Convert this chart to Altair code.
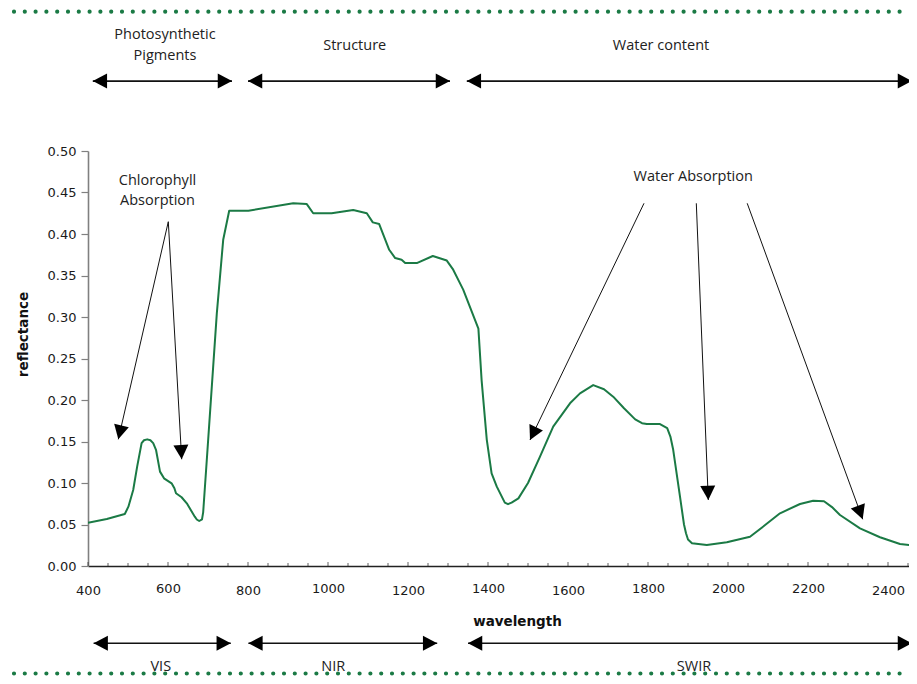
import math
import altair as alt
import pandas as pd

# ---------------- data ----------------
wavelength = [400, 447, 492, 501, 513, 523, 534, 540, 548, 556, 563, 570, 580, 590, 609, 616,
              620, 634, 647, 667, 672, 678, 685, 688, 697, 722, 738, 753, 801, 913, 947, 963,
              1009, 1063, 1097, 1112, 1128, 1153, 1168, 1184, 1193, 1222, 1262, 1297, 1313,
              1338, 1376, 1384, 1397, 1409, 1422, 1442, 1450, 1459, 1476, 1500, 1530, 1563,
              1605, 1630, 1663, 1690, 1713, 1740, 1768, 1785, 1797, 1830, 1848, 1856, 1863,
              1880, 1890, 1895, 1900, 1910, 1947, 1997, 2055, 2092, 2130, 2180, 2213, 2240,
              2260, 2280, 2330, 2380, 2430, 2472]
reflectance = [0.052, 0.0566, 0.0627, 0.0715, 0.0916, 0.120, 0.148, 0.1515, 0.1526, 0.1515,
               0.148, 0.140, 0.1137, 0.1056, 0.0996, 0.0936, 0.0876, 0.0828, 0.0755, 0.0594,
               0.056, 0.0542, 0.0562, 0.065, 0.128, 0.304, 0.393, 0.428, 0.428, 0.437, 0.436,
               0.425, 0.425, 0.429, 0.425, 0.414, 0.412, 0.381, 0.371, 0.369, 0.365, 0.365,
               0.3735, 0.368, 0.357, 0.333, 0.286, 0.224, 0.152, 0.1117, 0.0956, 0.0763,
               0.0745, 0.0763, 0.0815, 0.100, 0.1317, 0.168, 0.196, 0.208, 0.218, 0.213,
               0.204, 0.190, 0.1767, 0.172, 0.171, 0.171, 0.166, 0.156, 0.140, 0.0835, 0.050,
               0.0394, 0.032, 0.0275, 0.0253, 0.0285, 0.0353, 0.049, 0.0635, 0.0747, 0.0787,
               0.078, 0.071, 0.0614, 0.0454, 0.0346, 0.0265, 0.0241]

x_tick_values = list(range(400, 2451, 50))
x_label_values = list(range(400, 2401, 200))
x_labels_raised = [600, 1000, 1400, 1800, 2000, 2200]
y_tick_values = [0.0, 0.05, 0.10, 0.15, 0.20, 0.25, 0.30, 0.35, 0.40, 0.45, 0.50]

# spectral ranges (double arrows), in wavelength / reflectance units
top_span_start = [412, 800, 1347]
top_span_end = [760, 1305, 2460]
top_span_level = 0.5843
bottom_span_start = [414, 801, 1350]
bottom_span_end = [757, 1273, 2460]
bottom_span_level = -0.0931

# text annotations
note_text = ["Photosynthetic", "Pigments", "Structure", "Water content",
             "Chlorophyll", "Absorption", "Water Absorption", "VIS", "NIR", "SWIR"]
note_x = [592.5, 592.5, 1066.75, 1832.5, 573.75, 573.75, 1913, 582, 1013, 1915]
note_y = [0.6346, 0.6096, 0.6217, 0.6217, 0.459, 0.435, 0.4642, -0.1261, -0.1261, -0.1261]

# pointer arrows (start -> tip)
ptr_x0 = [600.75, 600.75, 1790, 1920.75, 2048]
ptr_y0 = [0.4148, 0.4148, 0.437, 0.437, 0.437]
ptr_x1 = [475.75, 634.25, 1505, 1950.75, 2336.75]
ptr_y1 = [0.1526, 0.1286, 0.1518, 0.0795, 0.0563]

# ---------------- layout ----------------
W, H = 821, 415
X_MIN, X_MAX = 400, 400 + W / 0.4
Y_MIN, Y_MAX = 0.0, 0.5
PX_X = W / (X_MAX - X_MIN)
PX_Y = H / (Y_MAX - Y_MIN)
GREEN = "#1b7a45"
ARROW = "M0,0L-1,-1.9L1,-1.9Z"   # tip at origin, pointing down

xs = alt.Scale(domain=[X_MIN, X_MAX], nice=False, zero=False)
ys = alt.Scale(domain=[Y_MIN, Y_MAX], nice=False, zero=False)


def head_angle(x0, y0, x1, y1):
    dx = (x1 - x0) * PX_X
    dy = -(y1 - y0) * PX_Y
    return math.degrees(math.atan2(-dx, dy)) % 360


curve = pd.DataFrame({"wavelength": wavelength, "reflectance": reflectance})

seg_rows, head_rows = [], []
for a, b in zip(top_span_start, top_span_end):
    seg_rows.append({"x": a, "y": top_span_level, "x2": b, "y2": top_span_level})
    head_rows.append({"x": a, "y": top_span_level, "angle": head_angle(b, top_span_level, a, top_span_level)})
    head_rows.append({"x": b, "y": top_span_level, "angle": head_angle(a, top_span_level, b, top_span_level)})
for a, b in zip(bottom_span_start, bottom_span_end):
    seg_rows.append({"x": a, "y": bottom_span_level, "x2": b, "y2": bottom_span_level})
    head_rows.append({"x": a, "y": bottom_span_level, "angle": head_angle(b, bottom_span_level, a, bottom_span_level)})
    head_rows.append({"x": b, "y": bottom_span_level, "angle": head_angle(a, bottom_span_level, b, bottom_span_level)})
spans = pd.DataFrame(seg_rows)

ptr_rows = []
for x0, y0, x1, y1 in zip(ptr_x0, ptr_y0, ptr_x1, ptr_y1):
    ptr_rows.append({"x": x0, "y": y0, "x2": x1, "y2": y1})
    head_rows.append({"x": x1, "y": y1, "angle": head_angle(x0, y0, x1, y1)})
pointers = pd.DataFrame(ptr_rows)
heads = pd.DataFrame(head_rows)
notes = pd.DataFrame({"text": note_text, "x": note_x, "y": note_y})
ticks = pd.DataFrame({"tick": x_tick_values})
ticks["major"] = ticks["tick"] % 200 == 0
one = pd.DataFrame({"k": [0]})

raised_test = "indexof([" + ",".join(str(v) for v in x_labels_raised) + "], datum.value) >= 0"

x_axis = alt.Axis(values=x_label_values, format="d", ticks=False, grid=False,
                  labelPadding=18, labelFlush=False, labelOverlap=False,
                  labelFont="DejaVu Sans", labelFontSize=13, labelColor="#1a1a1a",
                  labelLineHeight=8.5,
                  labelBaseline={"condition": {"test": raised_test, "value": "line-top"},
                                 "value": "top"},
                  domainColor="#222222", domainWidth=1.3,
                  title="wavelength", titleFont="DejaVu Sans", titleFontSize=13.5,
                  titleFontWeight="bold", titleColor="#111111",
                  titleX=429, titleY=55, titleAlign="center", titleBaseline="middle")
y_axis = alt.Axis(values=y_tick_values, format=".2f", grid=False,
                  tickSize=7, tickColor="#808080", tickWidth=1.2,
                  domainColor="#808080", domainWidth=1.6,
                  labelPadding=5, labelFont="DejaVu Sans", labelFontSize=13,
                  labelColor="#1a1a1a",
                  title="reflectance", titleFont="DejaVu Sans", titleFontSize=13.5,
                  titleFontWeight="bold", titleColor="#111111",
                  titleX=-65, titleY=183, titleAngle=270, titleAlign="center",
                  titleBaseline="middle")


def X(field):
    return alt.X(f"{field}:Q", scale=xs, axis=x_axis)


def Y(field):
    return alt.Y(f"{field}:Q", scale=ys, axis=y_axis)


line = alt.Chart(curve).mark_line(color=GREEN, strokeWidth=2, interpolate="linear",
                                  strokeJoin="round", clip=True).encode(
    x=X("wavelength"), y=Y("reflectance"))

minor_ticks = alt.Chart(ticks).transform_filter("!datum.major").mark_tick(
    color="#222222", thickness=1, size=3, orient="vertical").encode(
    x=X("tick"), y=alt.value(H - 1.5))
major_ticks = alt.Chart(ticks).transform_filter("datum.major").mark_tick(
    color="#222222", thickness=1, size=4, orient="vertical").encode(
    x=X("tick"), y=alt.value(H - 2))

span_lines = alt.Chart(spans).mark_rule(color="#111111", strokeWidth=1.7).encode(
    x=X("x"), y=Y("y"), x2="x2:Q", y2="y2:Q")
pointer_lines = alt.Chart(pointers).mark_rule(color="#111111", strokeWidth=1).encode(
    x=X("x"), y=Y("y"), x2="x2:Q", y2="y2:Q")
arrow_heads = alt.Chart(heads).mark_point(shape=ARROW, filled=True, color="#000000",
                                          size=225, opacity=1, strokeWidth=0).encode(
    x=X("x"), y=Y("y"), angle=alt.Angle("angle:Q", scale=None))

texts = alt.Chart(notes).mark_text(font="Open Sans", fontSize=14.5, color="#222222",
                                   align="center", baseline="alphabetic").encode(
    x=X("x"), y=Y("y"), text="text:N")

dots_top = alt.Chart(one).mark_rule(color=GREEN, strokeWidth=4.2, strokeCap="round",
                                    strokeDash=[0, 10.8]).encode(
    x=alt.value(-74), x2=alt.value(W), y=alt.value(-139.3))
dots_bottom = alt.Chart(one).mark_rule(color=GREEN, strokeWidth=4.2, strokeCap="round",
                                       strokeDash=[0, 10.8]).encode(
    x=alt.value(-74), x2=alt.value(W), y=alt.value(522.5))

chart = alt.layer(
    line, minor_ticks, major_ticks, span_lines, pointer_lines, arrow_heads, texts,
    dots_top, dots_bottom,
).properties(
    width=W, height=H,
    autosize=alt.AutoSizeParams(type="none"),
    padding={"left": 80, "top": 143, "right": 0, "bottom": 110},
    background="white",
).configure_view(strokeWidth=0)

chart.save("out.html", embed_options={"renderer": "svg", "actions": False})
